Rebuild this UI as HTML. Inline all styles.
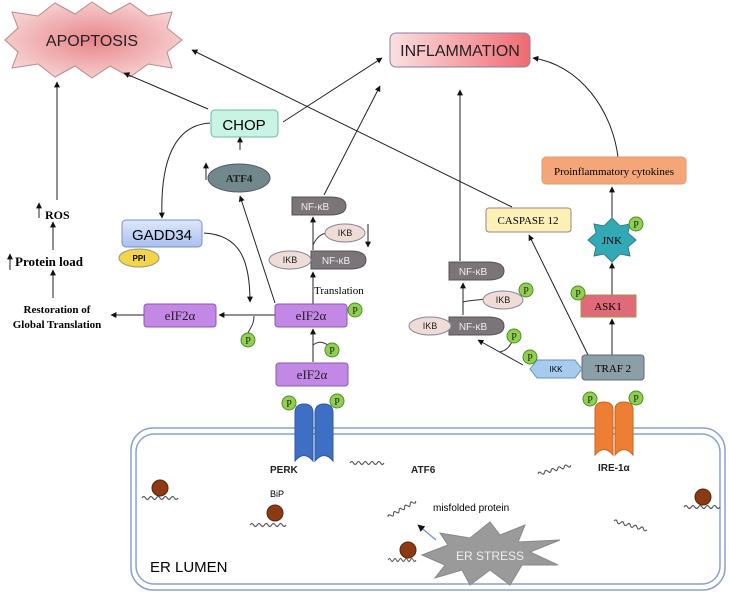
<!DOCTYPE html>
<html><head><meta charset="utf-8"><style>
html,body{margin:0;padding:0;background:#fff}
svg{display:block}
.s{font-family:"Liberation Sans",sans-serif}
.r{font-family:"Liberation Serif",serif}
</style></head><body>
<svg width="729" height="595" viewBox="0 0 729 595" xmlns="http://www.w3.org/2000/svg">
<defs>
<marker id="a" viewBox="0 0 10 10" refX="9" refY="5" markerWidth="6" markerHeight="6" orient="auto-start-reverse"><path d="M0,0L10,5L0,10z" fill="#111"/></marker>
<radialGradient id="apo" cx="50%" cy="50%" r="55%"><stop offset="0" stop-color="#e8858a"/><stop offset="1" stop-color="#f7d3d3"/></radialGradient>
<linearGradient id="inf" x1="0" x2="1"><stop offset="0" stop-color="#fbe0e2"/><stop offset="1" stop-color="#ee6b72"/></linearGradient>
<linearGradient id="gad" x1="0" y1="0" x2="0" y2="1"><stop offset="0" stop-color="#dfe8fb"/><stop offset="1" stop-color="#a9c0ef"/></linearGradient>
<path id="w" d="M0,0 q2,-3 4,0 t4,0 t4,0 t4,0 t4,0 t4,0 t4,0 t4,0 t4,0 t4,0" fill="none" stroke="#555" stroke-width="1.2"/>
</defs>
<polygon points="5,40 18,28 12,12 38,16 55,3 75,14 92,2 110,14 130,3 148,16 172,12 167,28 182,40 167,52 172,68 148,64 130,77 110,66 92,78 75,66 55,77 38,64 12,68 18,52" fill="url(#apo)" stroke="#b98a8a"/>
<text x="92" y="46" class="s" font-size="16" text-anchor="middle" fill="#222">APOPTOSIS</text>
<rect x="390" y="33" width="140" height="34" rx="6" fill="url(#inf)" stroke="#8a7fa0"/>
<text x="460" y="56" class="s" font-size="16" text-anchor="middle" fill="#222">INFLAMMATION</text>

<g stroke="#222" stroke-width="1" fill="none" marker-end="url(#a)">
<line x1="57" y1="200" x2="57" y2="82"/>
<line x1="53" y1="250" x2="53" y2="222"/>
<line x1="53" y1="298" x2="53" y2="270"/>
<line x1="208" y1="109" x2="124" y2="73"/>
<line x1="283" y1="122" x2="382" y2="58"/>
<line x1="324" y1="195" x2="380" y2="86"/>
<line x1="512" y1="207" x2="192" y2="50"/>
<path d="M618,157 C612,110 580,65 533,58"/>
<line x1="460" y1="261" x2="460" y2="90"/>
<line x1="240" y1="150" x2="240" y2="137"/>
<path d="M210,123 C175,125 160,160 162,218"/>
<path d="M204,233 C240,235 250,260 250,302"/>
<line x1="275" y1="315" x2="219" y2="315"/>
<line x1="144" y1="315" x2="111" y2="315"/>
<line x1="275" y1="303" x2="240" y2="196"/>
<line x1="313" y1="304" x2="313" y2="272"/>
<line x1="313" y1="250" x2="313" y2="217"/>
<line x1="313" y1="362" x2="313" y2="329"/>
<line x1="463" y1="315" x2="463" y2="283"/>
<line x1="523" y1="365" x2="478" y2="340"/>
<line x1="588" y1="355" x2="529" y2="235"/>
<line x1="612" y1="355" x2="612" y2="319"/>
<line x1="612" y1="295" x2="612" y2="263"/>
<line x1="612" y1="222" x2="612" y2="187"/>
<line x1="206" y1="180" x2="206" y2="163"/>
<line x1="10" y1="270" x2="10" y2="254"/>
<line x1="39" y1="218" x2="39" y2="203"/>
<line x1="368" y1="224" x2="368" y2="247"/>
</g>
<g stroke="#333" stroke-width="1" fill="none">
<path d="M313,245 C318,235 322,234 327,233"/>
<path d="M254,316 C254,325 250,328 248,333"/>
<path d="M313,345 C320,340 324,343 328,345"/>
<path d="M463,302 C470,300 480,300 486,299"/>
<path d="M500,352 C508,350 510,345 512,342"/>
</g>

<rect x="211" y="110" width="67" height="27" rx="4" fill="#c9f4e4" stroke="#66bba6"/>
<text x="244" y="130" class="s" font-size="15" text-anchor="middle">CHOP</text>
<ellipse cx="239" cy="178" rx="31" ry="14" fill="#71898d" stroke="#556"/>
<text x="239" y="182" class="r" font-size="11" font-weight="bold" text-anchor="middle" fill="#222">ATF4</text>
<rect x="122" y="220" width="80" height="27" rx="4" fill="url(#gad)" stroke="#7a8fc8"/>
<text x="162" y="240" class="s" font-size="15" text-anchor="middle">GADD34</text>
<ellipse cx="139" cy="258" rx="20" ry="9" fill="#f5d44a" stroke="#997"/>
<text x="139" y="261" class="s" font-size="8" font-weight="bold" text-anchor="middle">PPI</text>

<text x="45" y="219" class="r" font-size="12" font-weight="bold">ROS</text>
<text x="15" y="266" class="r" font-size="13" font-weight="bold">Protein load</text>
<text x="57" y="313" class="r" font-size="11" font-weight="bold" text-anchor="middle">Restoration of</text>
<text x="57" y="328" class="r" font-size="11" font-weight="bold" text-anchor="middle">Global Translation</text>

<g fill="#c387e6" stroke="#8a5aa8">
<rect x="144" y="304" width="72" height="23" rx="3"/>
<rect x="275" y="304" width="72" height="23" rx="3"/>
<rect x="276" y="363" width="72" height="23" rx="3"/>
</g>
<g class="r" font-size="13" text-anchor="middle" fill="#222">
<text x="180" y="320">eIF2α</text><text x="311" y="320">eIF2α</text><text x="312" y="379">eIF2α</text>
</g>
<text x="314" y="294" class="r" font-size="11">Translation</text>

<g fill="#7b7478" stroke="#555">
<path d="M292,197 H330 Q346,197 346,206 Q346,215 330,215 H292z"/>
<path d="M311,251 H350 Q366,251 366,260 Q366,269 350,269 H311z"/>
<path d="M449,262 H488 Q504,262 504,271 Q504,280 488,280 H449z"/>
<path d="M449,317 H488 Q504,317 504,326 Q504,335 488,335 H449z"/>
</g>
<g fill="#efdcd6" stroke="#889">
<ellipse cx="345" cy="233" rx="20" ry="9"/>
<ellipse cx="290" cy="260" rx="21" ry="9"/>
<ellipse cx="503" cy="300" rx="20" ry="9"/>
<ellipse cx="430" cy="326" rx="21" ry="9"/>
</g>
<g class="s" font-size="9" text-anchor="middle" fill="#222">
<text x="345" y="236">IKB</text><text x="290" y="263">IKB</text><text x="503" y="303">IKB</text><text x="430" y="329">IKB</text>
</g>
<g class="s" font-size="10" text-anchor="middle" fill="#eee">
<text x="315" y="210">NF-κB</text><text x="336" y="264">NF-κB</text><text x="473" y="275">NF-κB</text><text x="473" y="330">NF-κB</text>
</g>

<rect x="542" y="157" width="144" height="27" rx="4" fill="#f4a679" stroke="#e29a70"/>
<text x="614" y="175" class="r" font-size="11" text-anchor="middle">Proinflammatory cytokines</text>
<rect x="486" y="208" width="85" height="24" rx="3" fill="#fdf0b6" stroke="#8a8a8a"/>
<text x="528" y="224" class="r" font-size="11" text-anchor="middle">CASPASE 12</text>
<polygon points="588,240 596,233 594,224 604,226 612,218 620,226 630,224 628,233 636,240 628,247 630,256 620,254 612,262 604,254 594,256 596,247" fill="#33a9b6" stroke="#2a7f88"/>
<text x="612" y="244" class="r" font-size="11" text-anchor="middle">JNK</text>
<rect x="581" y="295" width="55" height="22" fill="#e06a78" stroke="#994"/>
<text x="608" y="310" class="r" font-size="11" text-anchor="middle">ASK1</text>
<rect x="582" y="355" width="62" height="25" rx="3" fill="#8b9fa7" stroke="#667"/>
<text x="613" y="372" class="r" font-size="11" text-anchor="middle">TRAF 2</text>
<polygon points="530,369 537,360 575,360 582,369 575,378 537,378" fill="#a6cbef" stroke="#6d8fb4"/>
<text x="556" y="372" class="s" font-size="8" text-anchor="middle">IKK</text>

<rect x="131" y="428" width="594" height="162" rx="22" fill="none" stroke="#8aa2cf" stroke-width="1.5"/>
<rect x="136" y="434" width="584" height="150" rx="18" fill="none" stroke="#8aa2cf" stroke-width="1.5"/>

<g fill="#3f6fc4" stroke="#2f58a0">
<path d="M295,461 V413 Q295,404 304,404 Q313,404 313,413 V461 Q304,450 295,461z"/>
<path d="M315,461 V413 Q315,404 324,404 Q333,404 333,413 V461 Q324,450 315,461z"/>
</g>
<g fill="#ee7e33" stroke="#c96420">
<path d="M595,455 V410 Q595,402 604,402 Q613,402 613,410 V455 Q604,444 595,455z"/>
<path d="M615,455 V410 Q615,402 624,402 Q633,402 633,410 V455 Q624,444 615,455z"/>
</g>
<g fill="#8fd04e" stroke="#4f8a2a">
<circle cx="355" cy="310" r="7"/><circle cx="248" cy="340" r="7"/><circle cx="332" cy="350" r="7"/>
<circle cx="289" cy="403" r="7"/><circle cx="337" cy="401" r="7"/>
<circle cx="590" cy="399" r="7"/><circle cx="636" cy="398" r="7"/>
<circle cx="636" cy="224" r="7"/><circle cx="578" cy="293" r="7"/>
<circle cx="526" cy="290" r="7"/><circle cx="514" cy="336" r="7"/><circle cx="530" cy="357" r="7"/>
</g>
<g class="r" font-size="10" text-anchor="middle" fill="#222">
<text x="355" y="314">P</text><text x="248" y="344">P</text><text x="332" y="354">P</text>
<text x="289" y="407">P</text><text x="337" y="405">P</text>
<text x="590" y="403">P</text><text x="636" y="402">P</text>
<text x="636" y="228">P</text><text x="578" y="297">P</text>
<text x="526" y="294">P</text><text x="514" y="340">P</text><text x="530" y="361">P</text>
</g>

<g class="s" font-size="10" font-weight="bold" fill="#222">
<text x="270" y="473">PERK</text><text x="411" y="473">ATF6</text><text x="598" y="471">IRE-1α</text>
</g>
<text x="270" y="497" class="s" font-size="9">BiP</text>
<text x="433" y="511" class="s" font-size="10">misfolded protein</text>
<text x="150" y="572" class="s" font-size="15">ER LUMEN</text>

<g fill="#8b3a14" stroke="#5a2508">
<circle cx="160" cy="488" r="8"/><circle cx="275" cy="513" r="8"/><circle cx="408" cy="550" r="8"/><circle cx="703" cy="497" r="8"/>
</g>
<use href="#w" transform="translate(142,498) scale(0.9,1)"/>
<use href="#w" transform="translate(250,525) scale(0.9,1)"/>
<use href="#w" transform="translate(388,560) scale(0.7,1)"/>
<use href="#w" transform="translate(684,507) scale(0.9,1)"/>
<use href="#w" transform="translate(350,463) scale(0.85,1)"/>
<use href="#w" transform="translate(538,474) rotate(-15) scale(0.85,1)"/>
<use href="#w" transform="translate(388,517) rotate(-30) scale(0.8,1)"/>
<use href="#w" transform="translate(614,521) rotate(15) scale(0.85,1)"/>
<line x1="436" y1="540" x2="418" y2="525" stroke="#6a8fd0" stroke-width="1.2" marker-end="url(#a)"/>
<polygon points="422,555 448,545 440,533 470,538 490,522 500,535 525,525 518,542 560,540 530,552 558,565 522,565 510,585 490,570 470,585 462,570 435,578 445,565" fill="#9a9a9a" stroke="#888"/>
<text x="490" y="560" class="s" font-size="12" text-anchor="middle" fill="#eee">ER STRESS</text>
</svg>
</body></html>
